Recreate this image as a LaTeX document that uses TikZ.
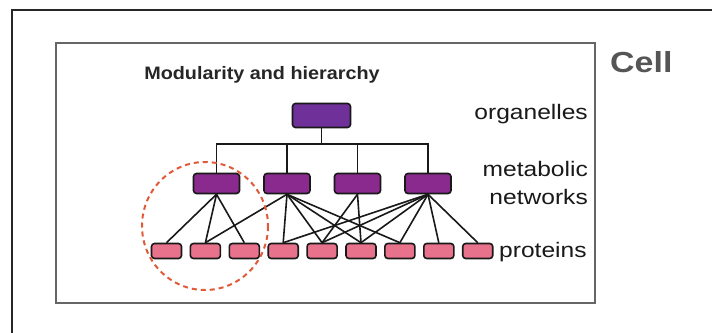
\documentclass[tikz,border=0pt]{standalone}
\usepackage{fontspec}
\setmainfont{Liberation Sans}
\definecolor{orgfill}{HTML}{70309A}
\definecolor{netfill}{HTML}{8A2A8E}
\definecolor{protfill}{HTML}{E8718B}
\definecolor{circ}{HTML}{E05A3A}
\definecolor{cellgray}{HTML}{555555}
\tikzset{
  box/.style={draw=black!90, line width=1.6pt, rounded corners=3pt, inner sep=0pt},
  orgbox/.style={box, fill=orgfill, minimum width=58pt, minimum height=24pt},
  netbox/.style={box, fill=netfill, minimum width=46pt, minimum height=20pt},
  protbox/.style={box, fill=protfill, minimum width=30pt, minimum height=15pt},
  link/.style={line width=1.6pt, black!90},
  lbl/.style={inner sep=0pt, font=\fontsize{21}{24}\selectfont, text=black!90},
}
\newcommand\widen[1]{\scalebox{1.17}[1]{#1}}
\begin{document}
\begin{tikzpicture}[x=1pt,y=-1pt]
\useasboundingbox (0,0) rectangle (712,332);
\fill[white] (0,0) rectangle (712,332);
\begin{scope}
\clip (0,0) rectangle (712,332);
\draw[line width=1.5pt, black!85] (12,10) rectangle (740,360);
\end{scope}
\draw[line width=1.3pt, black!60] (56,43) rectangle (595,303);

\node[anchor=base, inner sep=0pt, font=\fontsize{18}{20}\selectfont\bfseries, text=black!85] (title) at (262,79) {\scalebox{1.1}[1]{Modularity and hierarchy}};
\node[anchor=base west, inner sep=0pt, font=\fontsize{29}{32}\selectfont\bfseries, text=cellgray] (cell) at (610,72) {\widen{Cell}};

\node[orgbox] (top) at (321.5,115.5) {};
\foreach \i/\x in {1/216.5,2/287,3/357.5,4/428}
  \node[netbox] (n\i) at (\x,183.5) {};
\foreach \i in {1,...,9}
  \node[protbox] (p\i) at ({166.5+38.9*(\i-1)},251) {};

\coordinate (bar) at (321.5,144);
\draw[link] (top.south) -- (bar);
\foreach \i in {1,...,4}
  \draw[link] (n\i.north) |- (bar);

\foreach \a/\b in {1/1,1/2,1/3,2/2,2/4,2/5,2/6,2/7,3/5,3/6,4/4,4/5,4/6,4/7,4/8,4/9}
  \draw[link] (n\a.south) -- (p\b.north);

\node[lbl, anchor=base east] (org) at (588,119) {\widen{organelles}};
\node[lbl, anchor=base east] (met) at (588,176) {\widen{metabolic}};
\node[lbl, anchor=base east] (netw) at (588,204) {\widen{networks}};
\node[lbl, anchor=base west] (prot) at (499,257) {\widen{proteins}};

\draw[circ, line width=2pt, dash pattern=on 5pt off 4pt] (205,226) ellipse [x radius=63, y radius=64];
\end{tikzpicture}
\end{document}
